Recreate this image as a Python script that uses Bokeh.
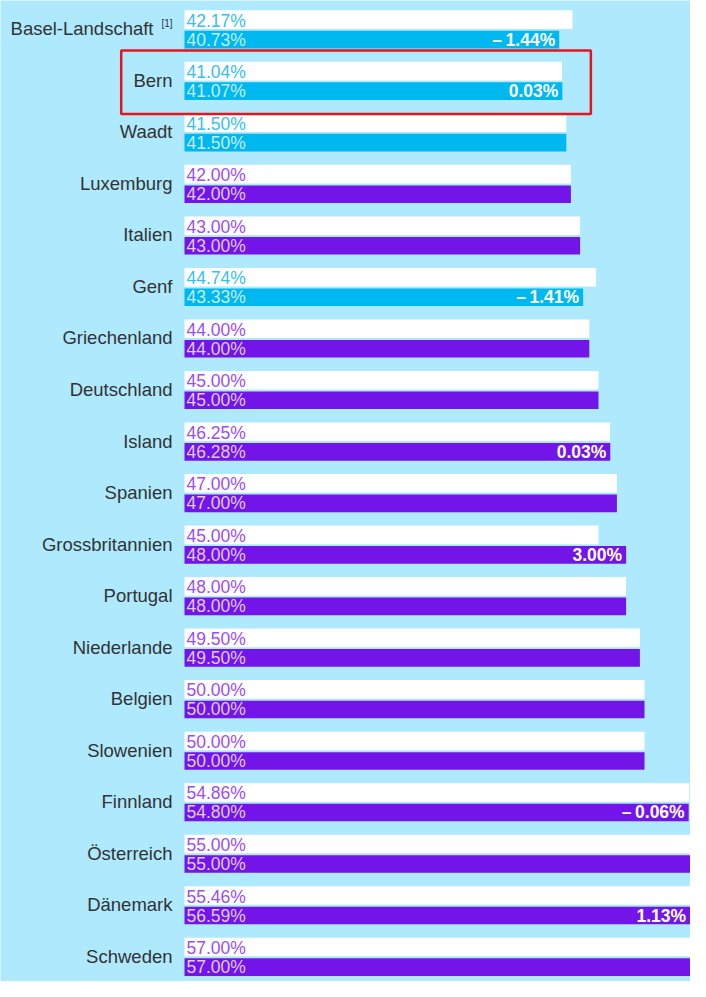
from bokeh.plotting import figure
from bokeh.models import ColumnDataSource, Range1d, BoxAnnotation
from bokeh.core.properties import value
from bokeh.embed import file_html
from bokeh.resources import INLINE

# ---- data ----
names = ["Basel-Landschaft", "Bern", "Waadt", "Luxemburg", "Italien", "Genf",
         "Griechenland", "Deutschland", "Island", "Spanien", "Grossbritannien",
         "Portugal", "Niederlande", "Belgien", "Slowenien", "Finnland",
         "Österreich", "Dänemark", "Schweden"]
notes = ["[1]", "", "", "", "", "", "", "", "", "", "", "", "", "", "", "", "", "", ""]
previous = [42.17, 41.04, 41.50, 42.00, 43.00, 44.74, 44.00, 45.00, 46.25, 47.00,
            45.00, 48.00, 49.50, 50.00, 50.00, 54.86, 55.00, 55.46, 57.00]
current = [40.73, 41.07, 41.50, 42.00, 43.00, 43.33, 44.00, 45.00, 46.28, 47.00,
           48.00, 48.00, 49.50, 50.00, 50.00, 54.80, 55.00, 56.59, 57.00]
swiss = [True, True, True, False, False, True, False, False, False, False,
         False, False, False, False, False, False, False, False, False]
highlight = "Bern"

# ---- style ----
BG = "#AEE9FE"
CYAN = "#00B8F0"
PURPLE = "#7315E8"
CYAN_TXT = "#35C0F2"
PURPLE_TXT = "#9B4DF8"
FONT = "Liberation Sans"

W, H = 690, 981
X_START, X_END = -20.0, 55.0
Y_TOP, Y_BOTTOM = -0.5695, 18.47

n = len(names)
rows = list(range(n))

def fmt(v):
    return f"{v:.2f}%"

def fmt_diff(d):
    if abs(d) < 0.005:
        return ""
    if d < 0:
        return "\u2013\u2009" + f"{abs(d):.2f}%"
    return f"{d:.2f}%"

diffs = [c - p for c, p in zip(current, previous)]

src = ColumnDataSource(dict(
    y=rows,
    y_prev=[r - 0.199 for r in rows],
    y_cur=[r + 0.19 for r in rows],
    name=names,
    note=notes,
    name_off=[-31 if nt else -12 for nt in notes],
    prev=previous,
    cur=current,
    prev_lab=[fmt(v) for v in previous],
    cur_lab=[fmt(v) for v in current],
    diff_lab=[fmt_diff(d) for d in diffs],
    diff_x=[min(c, X_END - 0.05) for c in current],
    bar_col=[CYAN if s else PURPLE for s in swiss],
    txt_col=[CYAN_TXT if s else PURPLE_TXT for s in swiss],
))

p = figure(width=W, height=H, output_backend="svg", toolbar_location=None,
           x_range=Range1d(X_START, X_END), y_range=Range1d(Y_BOTTOM, Y_TOP),
           min_border=0, x_axis_location=None, y_axis_location=None)
p.background_fill_color = BG
p.border_fill_color = BG
p.outline_line_color = None
p.grid.visible = False

# bars
p.hbar(y="y_prev", left=0, right="prev", height=0.361, source=src,
       fill_color="white", line_color=None)
p.hbar(y="y_cur", left=0, right="cur", height=0.342, source=src,
       fill_color="bar_col", line_color=None)

# value labels
p.text(x=0, y="y_prev", text="prev_lab", source=src, x_offset=2, y_offset=1,
       text_font=value(FONT), text_font_size="17.5px", text_color="txt_col",
       text_align="left", text_baseline="middle")
p.text(x=0, y="y_cur", text="cur_lab", source=src, x_offset=2, y_offset=0,
       text_font=value(FONT), text_font_size="17.5px", text_color="white",
       text_alpha=0.78, text_align="left", text_baseline="middle")

# difference labels
p.text(x="diff_x", y="y_cur", text="diff_lab", source=src, x_offset=-4, y_offset=0,
       text_font=value(FONT), text_font_size="17.5px", text_font_style="bold",
       text_color="white", text_align="right", text_baseline="middle")

# category labels
p.text(x=0, y="y", text="name", source=src, x_offset="name_off", y_offset=-1,
       text_font=value(FONT), text_font_size="18.5px", text_color="#333333",
       text_align="right", text_baseline="middle")
p.text(x=0, y="y", text="note", source=src, x_offset=-12, y_offset=-6,
       text_font=value(FONT), text_font_size="10px", text_color="#333333",
       text_align="right", text_baseline="middle")

# highlight box
hi = names.index(highlight)
p.add_layout(BoxAnnotation(left=-6.88, right=max(previous[hi], current[hi]) + 3.1,
                           top=hi - 0.6, bottom=hi + 0.633,
                           fill_alpha=0, line_color="#E8141B", line_alpha=1.0,
                           line_width=2.5))

open("out.html", "w").write(file_html(p, INLINE))
